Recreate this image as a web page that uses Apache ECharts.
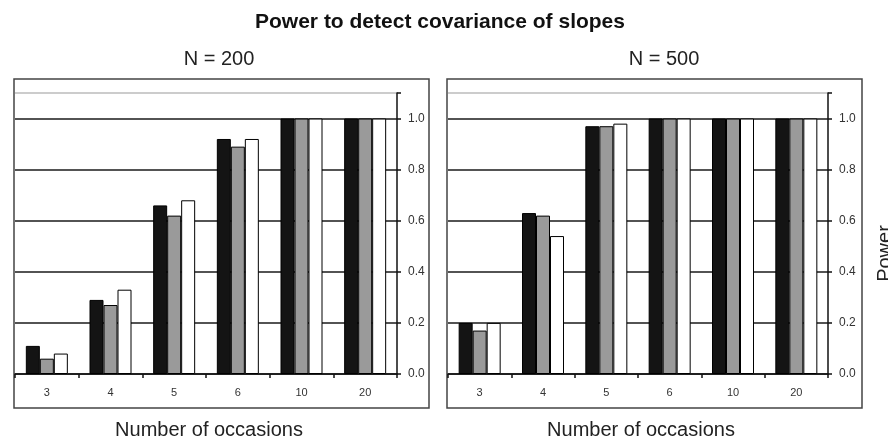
<!DOCTYPE html>
<html>
<head>
<meta charset="utf-8">
<script src="https://cdn.jsdelivr.net/npm/echarts@6/dist/echarts.min.js"></script>
<style>
html,body{margin:0;padding:0;background:#fff;}
#chart{width:888px;height:436px;}
</style>
</head>
<body>
<div id="chart"></div>
<script>
// ---- data ----
var categories = ['3', '4', '5', '6', '10', '20'];
var n200Dark  = [0.11, 0.29, 0.66, 0.92, 1.0, 1.0];
var n200Grey  = [0.06, 0.27, 0.62, 0.89, 1.0, 1.0];
var n200White = [0.08, 0.33, 0.68, 0.92, 1.0, 1.0];
var n500Dark  = [0.20, 0.63, 0.97, 1.0, 1.0, 1.0];
var n500Grey  = [0.17, 0.62, 0.97, 1.0, 1.0, 1.0];
var n500White = [0.20, 0.54, 0.98, 1.0, 1.0, 1.0];
var chartTitle = 'Power to detect covariance of slopes';
var panelTitles = ['N = 200', 'N = 500'];
var xAxisTitle = 'Number of occasions';
var yAxisTitle = 'Power';

var FONT = '"Liberation Sans", Arial, sans-serif';
var chart = echarts.init(document.getElementById('chart'));

function yAxisFor(idx, withName) {
  var a = {
    type: 'value', gridIndex: idx, position: 'right',
    min: 0, max: 1.1, interval: 0.2,
    axisLine: { show: true, lineStyle: { color: '#111', width: 1.5 } },
    axisTick: { show: true, length: 4, lineStyle: { color: '#111', width: 1.5 } },
    axisLabel: {
      margin: 11, color: '#333', fontSize: 12, fontFamily: FONT,
      formatter: function (v) { return v > 1.05 ? '' : v.toFixed(1); }
    },
    splitLine: { show: true, lineStyle: { color: ['#1a1a1a','#1a1a1a','#1a1a1a','#1a1a1a','#1a1a1a','#1a1a1a','#bbb'], width: 1.6 } }
  };
  if (withName) {
    a.name = yAxisTitle;
    a.nameLocation = 'middle';
    a.nameRotate = 90;
    a.nameGap = 47;
    a.nameTextStyle = { fontSize: 20, color: '#222', fontFamily: FONT, padding: [0, 40, 0, 0] };
  }
  return a;
}
function xAxisFor(idx) {
  return {
    type: 'category', gridIndex: idx, data: categories,
    axisLine: { show: true, lineStyle: { color: '#111', width: 1.5 } },
    axisTick: { show: true, length: 4, alignWithLabel: false, lineStyle: { color: '#111', width: 1.5 } },
    axisLabel: { margin: 13, color: '#333', fontSize: 11, fontFamily: FONT },
    splitLine: { show: false }
  };
}
function barSeries(name, data, idx, color) {
  return {
    type: 'bar', name: name, xAxisIndex: idx, yAxisIndex: idx, data: data,
    barWidth: 14, barGap: '0%',
    itemStyle: { color: color, borderColor: '#000', borderWidth: 1 },
    animation: false
  };
}

var option = {
  backgroundColor: '#fff',
  animation: false,
  grid: [
    { left: 15, right: 491, top: 93, bottom: 62, outerBoundsMode: 'none', containLabel: false },
    { left: 448, right: 60, top: 93, bottom: 62, outerBoundsMode: 'none', containLabel: false }
  ],
  xAxis: [xAxisFor(0), xAxisFor(1)],
  yAxis: [yAxisFor(0, false), yAxisFor(1, true)],
  series: [
    barSeries('A', n200Dark, 0, '#141414'),
    barSeries('B', n200Grey, 0, '#9a9a9a'),
    barSeries('C', n200White, 0, '#ffffff'),
    barSeries('A', n500Dark, 1, '#141414'),
    barSeries('B', n500Grey, 1, '#9a9a9a'),
    barSeries('C', n500White, 1, '#ffffff')
  ],
  graphic: [
    { type: 'rect', silent: true, z: -1, shape: { x: 14, y: 79, width: 415, height: 329 },
      style: { fill: 'none', stroke: '#444', lineWidth: 1.5 } },
    { type: 'rect', silent: true, z: -1, shape: { x: 447, y: 79, width: 415, height: 329 },
      style: { fill: 'none', stroke: '#444', lineWidth: 1.5 } },
    { type: 'text', x: 440, y: 22, style: { text: chartTitle, align: 'center', verticalAlign: 'middle',
      font: 'bold 21px ' + FONT, fill: '#111' } },
    { type: 'text', x: 219, y: 59, style: { text: panelTitles[0], align: 'center', verticalAlign: 'middle',
      font: '20px ' + FONT, fill: '#222' } },
    { type: 'text', x: 664, y: 59, style: { text: panelTitles[1], align: 'center', verticalAlign: 'middle',
      font: '20px ' + FONT, fill: '#222' } },
    { type: 'text', x: 209, y: 430, style: { text: xAxisTitle, align: 'center', verticalAlign: 'middle',
      font: '20px ' + FONT, fill: '#222' } },
    { type: 'text', x: 641, y: 430, style: { text: xAxisTitle, align: 'center', verticalAlign: 'middle',
      font: '20px ' + FONT, fill: '#222' } }
  ]
};
chart.setOption(option);
</script>
</body>
</html>
